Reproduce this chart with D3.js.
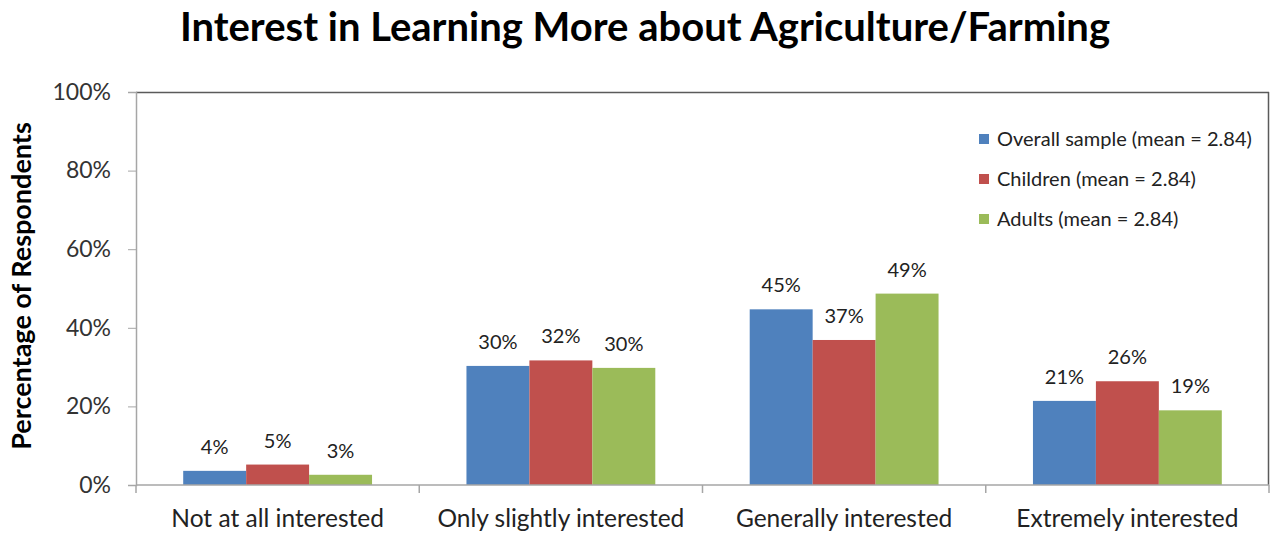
<!DOCTYPE html>
<html>
<head>
<meta charset="utf-8">
<script src="https://cdn.jsdelivr.net/npm/d3@7"></script>
<style>
  html, body { margin: 0; padding: 0; background: #fff; }
  svg { display: block; font-family: Lato, "Open Sans", sans-serif; }
</style>
</head>
<body>
<svg id="chart" width="1270" height="533"></svg>
<script>
// Response categories along the x axis
const categories = ["Not at all interested", "Only slightly interested", "Generally interested", "Extremely interested"];
// Series names (legend) and their percentages per category
const seriesNames = ["Overall sample (mean = 2.84)", "Children (mean = 2.84)", "Adults (mean = 2.84)"];
const overall = [3.6, 30.3, 44.7, 21.4];
const children = [5.2, 31.7, 36.9, 26.4];
const adults = [2.6, 29.8, 48.7, 19.0];
const yTicks = [0, 20, 40, 60, 80, 100];
const colors = ["#4F81BD", "#C0504D", "#9BBB59"];

const seriesValues = [overall, children, adults];

const svg = d3.select("#chart");
const margin = { left: 136, right: 1, top: 92, bottom: 48 };
const W = 1270, H = 533;
const plotW = W - margin.left - margin.right;
const plotH = H - margin.top - margin.bottom;

const x0 = d3.scaleBand().domain(categories).range([0, plotW]).paddingInner(0).paddingOuter(0);
// inner band: 3 bars with a 150% gap width split on both sides
const x1 = d3.scaleBand().domain(d3.range(seriesNames.length))
  .range([0, x0.bandwidth()]).paddingOuter(0.75).paddingInner(0);
const y = d3.scaleLinear().domain([0, 100]).range([plotH, 0]);

const g = svg.append("g").attr("transform", `translate(${margin.left},${margin.top})`);

// Title
svg.append("text")
  .attr("x", 645).attr("y", 41)
  .attr("text-anchor", "middle")
  .attr("font-size", 40).attr("font-weight", "bold").attr("fill", "#000")
  .text("Interest in Learning More about Agriculture/Farming");

// Plot border (top and right)
g.append("line").attr("x1", 0).attr("x2", plotW).attr("y1", 0.5).attr("y2", 0.5)
  .attr("stroke", "#5a5a5a").attr("stroke-width", 1.5);
g.append("line").attr("x1", plotW - 0.5).attr("x2", plotW - 0.5).attr("y1", 0).attr("y2", plotH)
  .attr("stroke", "#5a5a5a").attr("stroke-width", 1.5);

// Bars
const groups = g.selectAll("g.cat").data(categories).join("g")
  .attr("class", "cat").attr("transform", d => `translate(${x0(d)},0)`);

groups.selectAll("rect").data((d, i) => seriesValues.map((s, k) => ({ k, v: s[i] })))
  .join("rect")
  .attr("x", d => x1(d.k))
  .attr("width", x1.bandwidth())
  .attr("y", d => y(d.v))
  .attr("height", d => plotH - y(d.v))
  .attr("fill", d => colors[d.k]);

// Value labels
groups.selectAll("text.val").data((d, i) => seriesValues.map((s, k) => ({ k, v: s[i] })))
  .join("text").attr("class", "val")
  .attr("x", d => x1(d.k) + x1.bandwidth() / 2)
  .attr("y", d => y(d.v) - 17)
  .attr("text-anchor", "middle")
  .attr("font-size", 20).attr("fill", "#222")
  .text(d => Math.round(d.v) + "%");

// Y axis
const yAxis = g.append("g")
  .call(d3.axisLeft(y).tickValues(yTicks).tickSize(8).tickPadding(17).tickFormat(d => d + "%"));
yAxis.select(".domain").attr("stroke", "#a6a6a6").attr("stroke-width", 1.5);
yAxis.selectAll(".tick line").attr("stroke", "#a6a6a6");
yAxis.selectAll(".tick text").attr("font-size", 23).attr("fill", "#333").attr("font-family", "Lato, sans-serif");

// X axis with ticks at category boundaries
const xAxis = g.append("g").attr("transform", `translate(0,${plotH})`);
xAxis.append("line").attr("x1", 0).attr("x2", plotW).attr("stroke", "#a6a6a6").attr("stroke-width", 1.5);
const bounds = categories.map(c => x0(c)).concat([plotW]);
xAxis.selectAll("line.tk").data(bounds).join("line").attr("class", "tk")
  .attr("x1", d => d).attr("x2", d => d).attr("y1", 0).attr("y2", 8)
  .attr("stroke", "#a6a6a6").attr("stroke-width", 1.5);
xAxis.selectAll("text").data(categories).join("text")
  .attr("x", d => x0(d) + x0.bandwidth() / 2)
  .attr("y", 42)
  .attr("text-anchor", "middle")
  .attr("font-size", 24.5).attr("fill", "#222")
  .text(d => d);

// Y axis title
svg.append("text")
  .attr("transform", "translate(31,286) rotate(-90)")
  .attr("text-anchor", "middle")
  .attr("font-size", 27).attr("font-weight", "bold").attr("fill", "#000")
  .text("Percentage of Respondents");

// Legend
const legend = svg.append("g").attr("transform", "translate(979,139)");
seriesNames.forEach((name, i) => {
  const row = legend.append("g").attr("transform", `translate(0,${i * 40})`);
  row.append("rect").attr("x", 0).attr("y", -5).attr("width", 10).attr("height", 10).attr("fill", colors[i]);
  row.append("text").attr("x", 18).attr("y", 7).attr("font-size", 20).attr("fill", "#222").text(name);
});
</script>
</body>
</html>
